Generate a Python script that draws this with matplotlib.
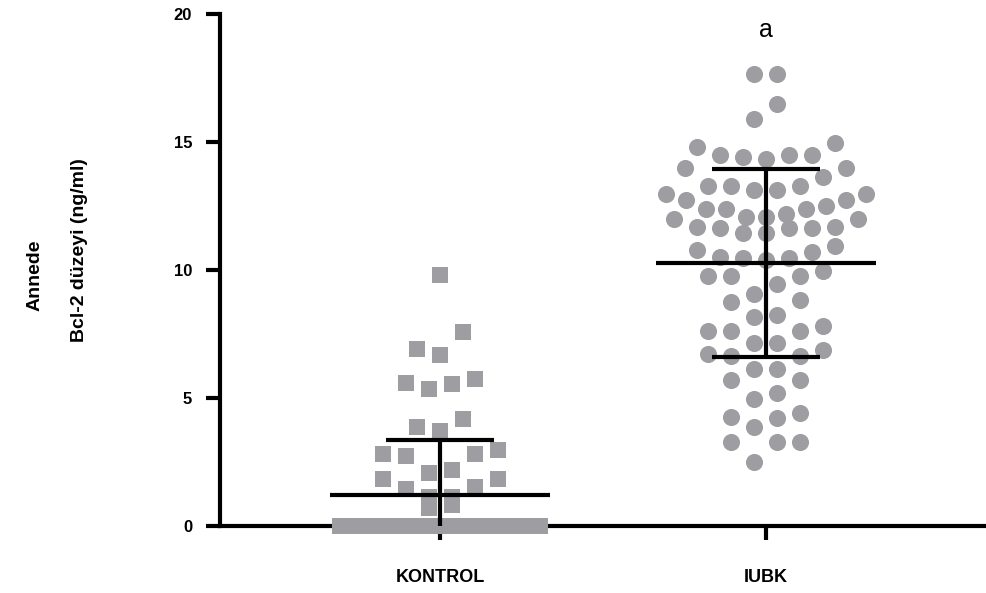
import matplotlib
matplotlib.use("Agg")
import matplotlib.pyplot as plt
import numpy as np

plt.rcParams['font.family'] = ['Liberation Sans', 'DejaVu Sans']

# ---------------- data ----------------
groups = ["KONTROL", "IUBK"]
kontrol = [9.8, 7.58, 6.9, 6.68, 5.74, 5.58, 5.55, 5.36, 4.18, 3.87, 3.72,
           2.97, 2.81, 2.81, 2.73, 2.19, 2.06, 1.82, 1.82, 1.51, 1.43, 1.15, 1.15,
           0.82, 0.69,
           0.0, 0.0, 0.0, 0.0, 0.0, 0.0, 0.0, 0.0, 0.0, 0.0, 0.0, 0.0,
           0.0, 0.0, 0.0, 0.0, 0.0, 0.0, 0.0, 0.0, 0.0, 0.0, 0.0, 0.0]
iubk = [17.64, 17.64, 16.47, 15.9, 14.97, 14.82, 14.49, 14.49, 14.49, 14.4, 14.34,
        13.97, 13.97, 13.65, 13.28, 13.28, 13.28, 13.13, 13.13, 12.97, 12.97,
        12.73, 12.73, 12.51, 12.4, 12.4, 12.37, 12.19, 12.08, 12.08, 11.98, 11.98,
        11.69, 11.69, 11.63, 11.63, 11.63, 11.46, 11.46, 10.94, 10.78, 10.72,
        10.5, 10.46, 10.46, 10.39, 9.97, 9.77, 9.77, 9.77, 9.45, 9.06, 8.83, 8.74,
        8.24, 8.15, 7.83, 7.62, 7.62, 7.62, 7.14, 7.14, 6.88, 6.7, 6.65, 6.65,
        6.12, 6.12, 5.70, 5.70, 5.21, 4.96, 4.40, 4.25, 4.21, 3.88,
        3.29, 3.29, 3.29, 2.49]
means = [1.2, 10.26]
sds = [2.16, 3.67]
yticks = [0, 5, 10, 15, 20]
annotation = "a"
ylabel_lines = ["Annede", "Bcl-2 düzeyi (ng/ml)"]

# ---------------- layout ----------------
W, H = 986, 593
fig = plt.figure(figsize=(W / 100, H / 100), dpi=100)
ax = fig.add_axes([220 / W, 67 / H, (W - 220) / W, 512 / H])
xmin, xmax = -0.675, 1.675
ax.set_xlim(xmin, xmax)
ax.set_ylim(0, 20)
px_per_unit = (W - 220) / (xmax - xmin)

gray = '#9d9da2'


def row_swarm(vals, bin_h=0.95, step_px=23, half_px=100, heavy_tie=5):
    """Prism-like scatter: group values into horizontal rows, centre each row."""
    order = sorted(range(len(vals)), key=lambda i: -vals[i])
    rows, cur = [], []
    for idx in order:
        v = vals[idx]
        new_tie = vals.count(v) >= heavy_tie and cur and vals[cur[-1]] != v
        if cur and (vals[cur[0]] - v >= bin_h or new_tie):
            rows.append(cur)
            cur = []
        cur.append(idx)
    if cur:
        rows.append(cur)
    step = step_px / px_per_unit
    half = half_px / px_per_unit
    offs = np.zeros(len(vals))
    for row in rows:
        n = len(row)
        s = min(step, 2 * half / (n - 1)) if n > 1 else 0
        slots = sorted([(k - (n - 1) / 2) * s for k in range(n)],
                       key=lambda o: (round(abs(o), 6), o))
        members = sorted(row, key=lambda i: vals[i])
        for i, o in zip(members, slots):
            offs[i] = o
    return offs


k_off = row_swarm(kontrol)
i_off = row_swarm(iubk)

ax.scatter(0 + k_off, kontrol, marker='s', s=11.5 ** 2, color=gray,
           linewidths=0, zorder=2, clip_on=False)
ax.scatter(1 + i_off, iubk, marker='o', s=12.3 ** 2, color=gray,
           linewidths=0, zorder=2, clip_on=False)

# mean and SD
xs = np.arange(len(groups))
ax.hlines(means, xs - 110 / px_per_unit, xs + 110 / px_per_unit,
          color='black', lw=3, zorder=3)
ax.errorbar(xs, means, yerr=sds, fmt='none', ecolor='black', elinewidth=3,
            capsize=39, capthick=3, zorder=3)

ax.text(1, 19.38, annotation, ha='center', va='center', fontsize=18)

# axes styling
for sp in ['top', 'right']:
    ax.spines[sp].set_visible(False)
for sp in ['left', 'bottom']:
    ax.spines[sp].set_linewidth(3)
ax.spines['bottom'].set_zorder(1)
ax.set_xticks(xs)
ax.set_xticklabels(groups, fontsize=13, fontweight='bold')
ax.set_yticks(yticks)
ax.set_yticklabels([str(t) for t in yticks], fontsize=12, fontweight='bold')
ax.tick_params(axis='y', length=10, width=3, pad=10)
ax.tick_params(axis='x', length=10, width=3, pad=21)

fig.text(35 / W, 1 - 275 / H, ylabel_lines[0], rotation=90, ha='center',
         va='center', fontsize=14, fontweight='bold')
fig.text(80 / W, 1 - 250 / H, ylabel_lines[1], rotation=90, ha='center',
         va='center', fontsize=14, fontweight='bold')

fig.savefig('out.png', dpi=100)
